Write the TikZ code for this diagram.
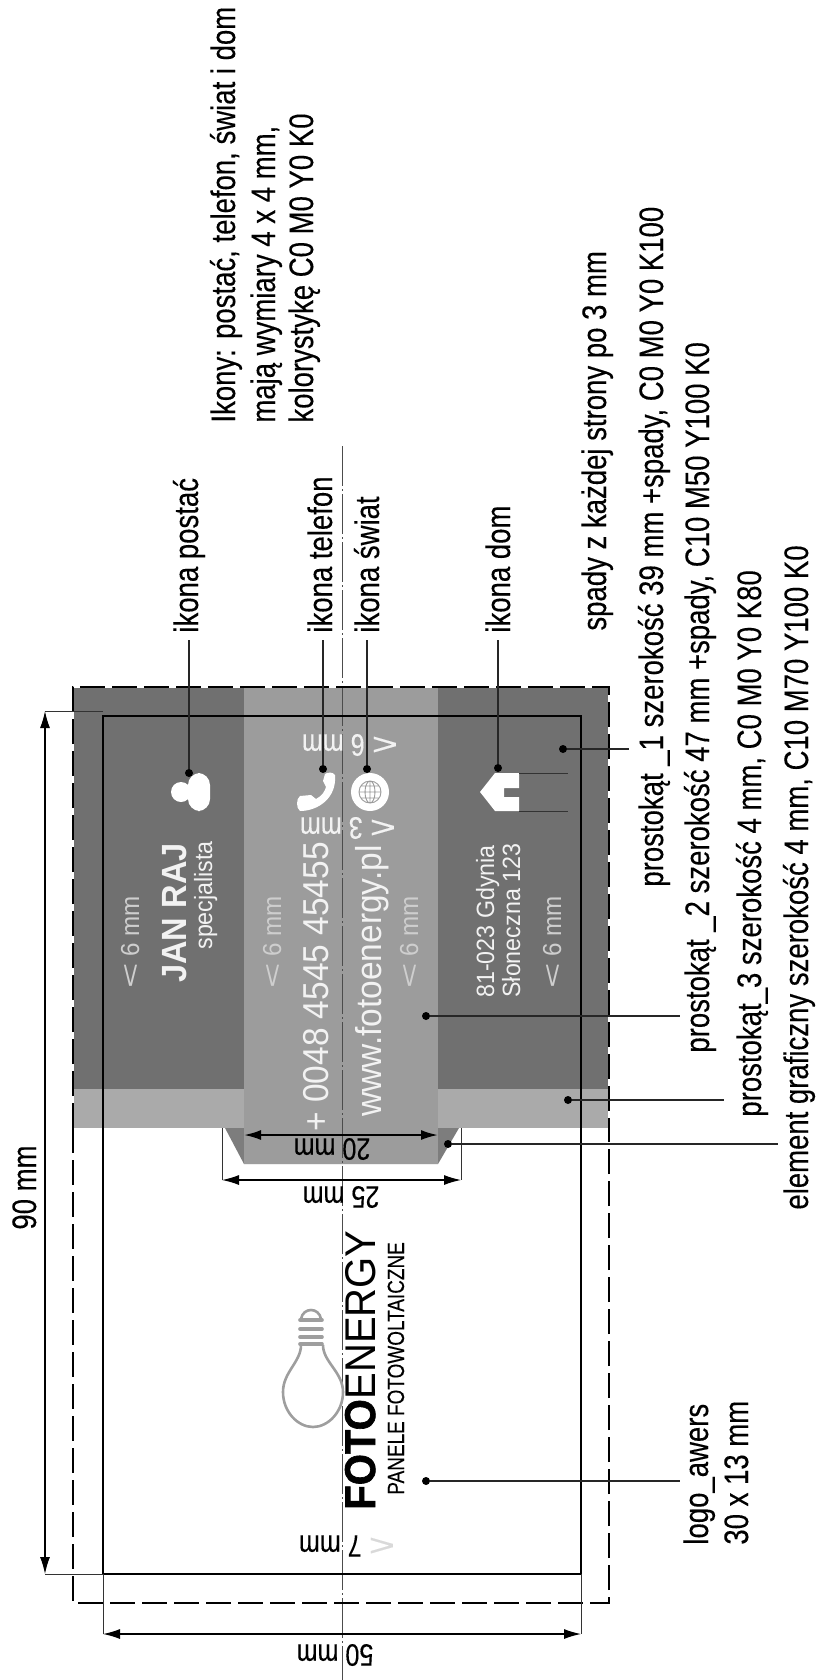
\documentclass[tikz,border=0pt]{standalone}
\usepackage{fontspec}
\usepackage{graphicx}
\usepackage{tikz}
\usetikzlibrary{arrows.meta}
\newfontfamily\narrowfont[FakeStretch=0.81, FakeBold=0.25]{Liberation Sans}
\newfontfamily\cardfont[FakeStretch=0.93]{Liberation Sans}
\newfontfamily\logofont[FakeStretch=0.93, FakeBold=1.5]{Liberation Sans Bold}
\newcommand{\ltmark}{\scalebox{1.8}[1]{<}}
\definecolor{rectone}{HTML}{707070}
\definecolor{recttwo}{HTML}{9C9C9C}
\definecolor{rectthree}{HTML}{AAAAAA}
\definecolor{rectgraph}{HTML}{7D7D7D}
\definecolor{paleink}{HTML}{F2F2F2}
\definecolor{bulbgrey}{HTML}{9E9E9E}
\tikzset{lbl/.style = {rotate = 90, anchor = base west, inner sep = 0,
                       font = \narrowfont\fontsize{17}{20}\selectfont}}
\tikzset{card/.style = {rotate = 90, anchor = base west, inner sep = 0, text = paleink}}
\tikzset{cardbig/.style = {card, font = \cardfont\fontsize{18}{20}\selectfont}}
\tikzset{cardsmall/.style = {card, font = \cardfont\fontsize{12.5}{15}\selectfont}}
\tikzset{gap/.style = {card, text = paleink!85!black, font = \cardfont\fontsize{13}{15}\selectfont}}
\tikzset{flip/.style = {rotate = 180, inner sep = 0, font = \narrowfont\fontsize{15.5}{18}\selectfont}}
\tikzset{circ/.style = {fill = black, circle, inner sep = 0, minimum size = 4pt}}
\tikzset{lead/.style = {line width = 0.65pt, draw = black!85}}
\tikzset{ext/.style = {line width = 0.45pt, draw = black!80}}
\tikzset{dim/.style = {line width = 0.6pt, {Latex[length = 8.5pt, width = 5pt]}-{Latex[length = 8.5pt, width = 5pt]}}}
\tikzset{bleed/.style = {line width = 0.7pt, dash pattern = on 12.5pt off 3.5pt,
                         preaction = {draw = white, solid, line width = 0.7pt}}}

\begin{document}
\begin{tikzpicture}[x = 0.5pt, y = -0.5pt]
  \useasboundingbox (0, 0) rectangle (815, 1680);

  % fills
  \fill [rectone] (73, 687) rectangle (609, 1089);
  \fill [rectthree] (73, 1089) rectangle (609, 1128);
  \fill [rectgraph] (225, 1128) -- (459, 1128) -- (438, 1164) -- (244, 1164) -- cycle;
  \fill [recttwo] (244, 687) rectangle (438, 1164);

  % axis and outlines
  \coordinate (axistop) at (342, 446);
  \coordinate (axisbot) at (342, 1680);
  \draw [line width = 0.4pt, draw = black!70, dash pattern = on 20pt off 1.5pt on 1pt off 1.5pt]
    (axistop) -- (axisbot);
  \draw [bleed] (73, 1128) -- (73, 1603) -- (609, 1603) -- (609, 1128);
  \draw [bleed] (73, 1128) -- (73, 687) -- (609, 687) -- (609, 1128);
  \draw [line width = 0.8pt] (103, 716) rectangle (581, 1574);

  % dimensions
  \coordinate (topa) at (45, 711);
  \coordinate (topb) at (103, 711);
  \coordinate (bota) at (45, 1574);
  \coordinate (botb) at (103, 1574);
  \draw [ext] (topa) -- (topb);
  \draw [ext] (bota) -- (botb);
  \draw [dim] (topa) -- (bota);
  \node [lbl] (dimninety) at (36, 1230) {90 mm};

  \coordinate (wida) at (103, 1634);
  \coordinate (widb) at (581, 1634);
  \draw [ext] (103, 1574) -- (wida);
  \draw [ext] (581, 1574) -- (widb);
  \draw [dim] (wida) -- (widb);
  \node [flip] (dimfifty) at (335, 1655) {50 mm};

  \coordinate (grpa) at (222, 1180);
  \coordinate (grpb) at (461, 1180);
  \draw [ext] (222, 1128) -- (grpa);
  \draw [ext] (461, 1128) -- (grpb);
  \draw [dim] (grpa) -- (grpb);
  \node [flip] (dimgrp) at (341, 1197) {25 mm};

  \coordinate (tena) at (244, 1135);
  \coordinate (tenb) at (438, 1135);
  \draw [dim, line width = 1pt] (tena) -- (tenb);
  \node [flip] (dimten) at (332, 1149) {20 mm};

  \node [flip, text = paleink] (gaptop) at (350, 745) {\ltmark{} 6 mm};
  \node [flip, text = paleink] (gapicon) at (348, 828) {\ltmark{} 3 mm};
  \node [flip] (gaplogo) at (347, 1546) {\textcolor{black!15}{\ltmark{}} 7 mm};

  % icons
  \fill [white] (181, 792) circle [radius = 10];
  \fill [white, rounded corners = 6pt] (188, 773) rectangle (210, 811);
  \fill [white] (335, 775) .. controls (337, 798) and (318, 811) .. (300, 811)
    .. controls (296, 808) and (296, 799) .. (300, 796) -- (311, 795)
    -- (316, 799) .. controls (322, 796) and (325, 791) .. (326, 787)
    -- (323, 781) -- (325, 774) .. controls (328, 772) and (333, 772) .. (335, 775) -- cycle;
  \fill [white] (370, 792) circle [radius = 19];
  \draw [recttwo, line width = 0.45pt] (370, 792) circle [radius = 11]
    (370, 792) ellipse [x radius = 5, y radius = 11] (370, 781) -- (370, 803)
    (359, 792) -- (381, 792) (361, 786) -- (379, 786) (361, 798) -- (379, 798);
  \fill [white] (480, 792) -- (495, 773) -- (519, 773) -- (519, 788) -- (504, 788)
    -- (504, 797) -- (519, 797) -- (519, 811) -- (495, 811) -- cycle;
  \coordinate (roofa) at (519, 773);
  \coordinate (roofb) at (568, 773);
  \coordinate (roofc) at (519, 811);
  \coordinate (roofd) at (568, 811);
  \draw [ext] (roofa) -- (roofb);
  \draw [ext] (roofc) -- (roofd);

  % card texts
  \node [gap] (gapone) at (139, 989) {\ltmark{} 6 mm};
  \node [gap] (gaptwo) at (281, 989) {\ltmark{} 6 mm};
  \node [gap] (gapthree) at (418, 989) {\ltmark{} 6 mm};
  \node [gap] (gapfour) at (561, 989) {\ltmark{} 6 mm};
  \node [cardbig, font = \cardfont\bfseries\fontsize{17.5}{20}\selectfont] (janraj) at (186, 983) {JAN RAJ};
  \node [cardsmall] (role) at (212, 950) {specjalista};
  \node [cardbig] (phone) at (328, 1132) {+ 0048 4545 45455};
  \node [cardbig] (www) at (381, 1117) {www.fotoenergy.pl};
  \node [cardsmall] (city) at (494, 998) {81-023 Gdynia};
  \node [cardsmall] (street) at (520, 998) {Słoneczna 123};

  % logo
  \draw [bulbgrey, line width = 1.3pt] (301, 1345) .. controls (301, 1362) and (283, 1372) .. (283, 1392)
    .. controls (283, 1412) and (298, 1427) .. (313, 1427)
    .. controls (328, 1427) and (343, 1412) .. (343, 1392)
    .. controls (343, 1372) and (323, 1362) .. (323, 1345);
  \draw [bulbgrey, line width = 1.8pt, line cap = round] (300, 1320) -- (322, 1320)
    (300, 1329) -- (322, 1329) (300, 1337) -- (322, 1337) (300, 1344) -- (322, 1344);
  \draw [bulbgrey, line width = 1.3pt] (301, 1319) .. controls (303, 1307) and (319, 1307) .. (321, 1319);
  \node [rotate = 90, anchor = base west, inner sep = 0, font = \cardfont\fontsize{21.5}{24}\selectfont]
    (logoname) at (375, 1510) {{\logofont FOTO}ENERGY};
  \node [rotate = 90, anchor = base west, inner sep = 0, font = \narrowfont\fontsize{11.7}{14}\selectfont]
    (logosub) at (404, 1495) {PANELE FOTOWOLTAICZNE};

  % leaders
  \node [circ] (dotperson) at (189, 773) {};
  \node [circ] (dotphone) at (323, 769) {};
  \node [circ] (dotglobe) at (367, 769) {};
  \node [circ] (dothouse) at (498, 768) {};
  \node [circ] (dotone) at (563, 749) {};
  \node [circ] (dottwo) at (426, 1016) {};
  \node [circ] (dotthree) at (568, 1100) {};
  \node [circ] (dotgraph) at (448, 1144) {};
  \node [circ] (dotlogo) at (426, 1481) {};
  \coordinate (endperson) at (189, 640);
  \coordinate (endphone) at (323, 640);
  \coordinate (endglobe) at (367, 640);
  \coordinate (endhouse) at (498, 640);
  \coordinate (endone) at (629, 749);
  \coordinate (endtwo) at (680, 1016);
  \coordinate (endthree) at (724, 1100);
  \coordinate (endgraph) at (778, 1144);
  \coordinate (endlogo) at (680, 1481);
  \draw [lead] (dotperson) -- (endperson);
  \draw [lead] (dotphone) -- (endphone);
  \draw [lead] (dotglobe) -- (endglobe);
  \draw [lead] (dothouse) -- (endhouse);
  \draw [lead] (dotone) -- (endone);
  \draw [lead] (dottwo) -- (endtwo);
  \draw [lead] (dotthree) -- (endthree);
  \draw [lead] (dotgraph) -- (endgraph);
  \draw [lead] (dotlogo) -- (endlogo);

  % labels
  \node [lbl] (noteone) at (235, 423) {Ikony: postać, telefon, świat i dom};
  \node [lbl] (notetwo) at (275, 423) {mają wymiary 4 x 4 mm,};
  \node [lbl] (notethree) at (313, 423) {kolorystykę C0 M0 Y0 K0};
  \node [lbl] (labperson) at (198, 633) {ikona postać};
  \node [lbl] (labphone) at (332, 633) {ikona telefon};
  \node [lbl] (labglobe) at (379, 633) {ikona świat};
  \node [lbl] (labhouse) at (510, 633) {ikona dom};
  \node [lbl] (labbleed) at (606, 631) {spady z każdej strony po 3 mm};
  \node [lbl] (labone) at (663, 887) {prostokąt \_1 szerokość 39 mm +spady, C0 M0 Y0 K100};
  \node [lbl] (labtwo) at (709, 1053) {prostokąt \_2 szerokość 47 mm +spady, C10 M50 Y100 K0};
  \node [lbl] (labthree) at (761, 1117) {prostokąt\_3 szerokość 4 mm, C0 M0 Y0 K80};
  \node [lbl] (labgraph) at (808, 1210) {element graficzny szerokość 4 mm, C10 M70 Y100 K0};
  \node [lbl] (lablogo) at (708, 1545) {logo\_awers};
  \node [lbl] (labsize) at (748, 1545) {30 x 13 mm};
\end{tikzpicture}
\end{document}
